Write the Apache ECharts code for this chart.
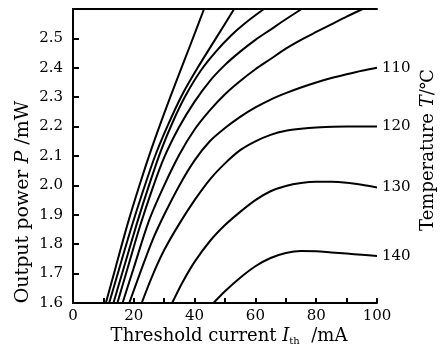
<!DOCTYPE html>
<html><head><meta charset="utf-8">
<script src="https://cdn.jsdelivr.net/npm/echarts@6/dist/echarts.min.js"></script>
<style>html,body{margin:0;padding:0;background:#fff}#c{width:447px;height:348px}</style>
</head><body><div id="c"></div>
<script>
// Threshold current (mA) and output power (mW)
const c1x=[10.8,14,18,22,26,30,34,38.5,43.1];
const c1y=[1.6,1.72,1.87,2.005,2.13,2.245,2.355,2.475,2.6];
const c2x=[11.9,15,19,23,27,31,36,41,47,53];
const c2y=[1.6,1.71,1.85,1.98,2.1,2.2,2.31,2.4,2.5,2.6];
const c3x=[13.3,17,21,25,29,33,37,42,47,52,57,62.8];
const c3y=[1.6,1.73,1.87,2.0,2.12,2.22,2.305,2.39,2.455,2.51,2.555,2.6];
const c4x=[14.6,18,22,26,30,35,40,45,50,55,60,65,70,75.2];
const c4y=[1.6,1.72,1.86,1.985,2.095,2.2,2.285,2.355,2.41,2.455,2.495,2.53,2.565,2.6];
const c5x=[16.3,20,25,30,35,40,45,50,55,60,65,70,75,80,85,90,95.3];
const c5y=[1.6,1.72,1.88,2.0,2.105,2.19,2.255,2.31,2.355,2.395,2.43,2.465,2.495,2.522,2.548,2.574,2.6];
const c6x=[18.5,22,26,30,35,40,45,50,55,60,65,70,75,80,85,90,95,100];
const c6y=[1.6,1.7,1.81,1.9,2.0,2.085,2.15,2.195,2.233,2.265,2.292,2.314,2.333,2.35,2.365,2.378,2.39,2.4];
const c7x=[22.6,26,30,35,40,45,50,55,60,65,70,75,80,90,100];
const c7y=[1.6,1.69,1.78,1.87,1.95,2.02,2.075,2.12,2.15,2.172,2.186,2.193,2.197,2.2,2.2];
const c8x=[32.6,36,40,45,50,55,60,65,70,75,80,85,90,95,100];
const c8y=[1.6,1.67,1.74,1.81,1.865,1.91,1.95,1.98,1.998,2.008,2.012,2.012,2.009,2.002,1.993];
const c9x=[46.2,50,55,60,65,70,75,80,85,90,95,100];
const c9y=[1.6,1.64,1.686,1.725,1.753,1.77,1.777,1.776,1.772,1.768,1.764,1.76];
const curveX=[c1x,c2x,c3x,c4x,c5x,c6x,c7x,c8x,c9x];
const curveY=[c1y,c2y,c3y,c4y,c5y,c6y,c7y,c8y,c9y];
const tempLabels=['','','','','','110','120','130','140'];
const xLabeled=[0,20,40,60,80,100];
const yLabeled=['1.6','1.7','1.8','1.9','2.0','2.1','2.2','2.3','2.4','2.5'];

const FONT='DejaVu Serif';
const chart=echarts.init(document.getElementById('c'),null,{renderer:'canvas'});
const series=curveX.map((xs,k)=>({
  type:'line',
  name:'c'+k,
  data:xs.map((x,i)=>[x,curveY[k][i]]),
  showSymbol:false,
  smooth:0.3,
  lineStyle:{color:'#000',width:2},
  silent:true,
  animation:false,
  endLabel:{show:tempLabels[k]!=='',formatter:tempLabels[k],color:'#000',fontFamily:FONT,fontSize:15,distance:5}
}));
const axisLineStyle={lineStyle:{color:'#000',width:2}};
chart.setOption({
  animation:false,
  grid:{left:73,right:70,top:9,bottom:45},
  xAxis:[{
    type:'value',min:0,max:100,interval:10,
    axisLine:axisLineStyle,
    axisTick:{inside:true,length:5,lineStyle:{color:'#000',width:2}},
    axisLabel:{color:'#000',fontFamily:FONT,fontSize:15,margin:6,
      formatter:v=>xLabeled.indexOf(Math.round(v))>=0?String(Math.round(v)):''},
    splitLine:{show:false}
  },{
    type:'value',min:0,max:100,position:'top',
    axisLine:axisLineStyle,axisTick:{show:false},axisLabel:{show:false},splitLine:{show:false}
  }],
  yAxis:[{
    type:'value',min:1.6,max:2.6,interval:0.1,
    axisLine:axisLineStyle,
    axisTick:{inside:true,length:6,lineStyle:{color:'#000',width:2}},
    axisLabel:{color:'#000',fontFamily:FONT,fontSize:15,margin:10,
      formatter:v=>{const s=v.toFixed(1);return yLabeled.indexOf(s)>=0?s:'';}},
    splitLine:{show:false}
  },{
    type:'value',min:1.6,max:2.6,position:'right',
    axisLine:axisLineStyle,axisTick:{show:false},axisLabel:{show:false},splitLine:{show:false}
  }],
  series:series,
  graphic:[
    {type:'text',x:229,y:336,silent:true,style:{text:'Threshold current {i|I}{s|th}  /mA',fontFamily:FONT,fontSize:18,fill:'#000',align:'center',verticalAlign:'middle',
      rich:{i:{fontStyle:'italic',fontFamily:FONT,fontSize:18},s:{fontFamily:FONT,fontSize:10,padding:[10,0,0,0]}}}},
    {type:'text',x:23,y:202,rotation:Math.PI/2,silent:true,style:{text:'Output power {i|P} /mW',fontFamily:FONT,fontSize:19,fill:'#000',align:'center',verticalAlign:'middle',
      rich:{i:{fontStyle:'italic',fontFamily:FONT,fontSize:19}}}},
    {type:'text',x:428,y:150,rotation:Math.PI/2,silent:true,style:{text:'Temperature {i|T}/℃',fontFamily:FONT,fontSize:18,fill:'#000',align:'center',verticalAlign:'middle',
      rich:{i:{fontStyle:'italic',fontFamily:FONT,fontSize:18}}}}
  ]
});
</script></body></html>
